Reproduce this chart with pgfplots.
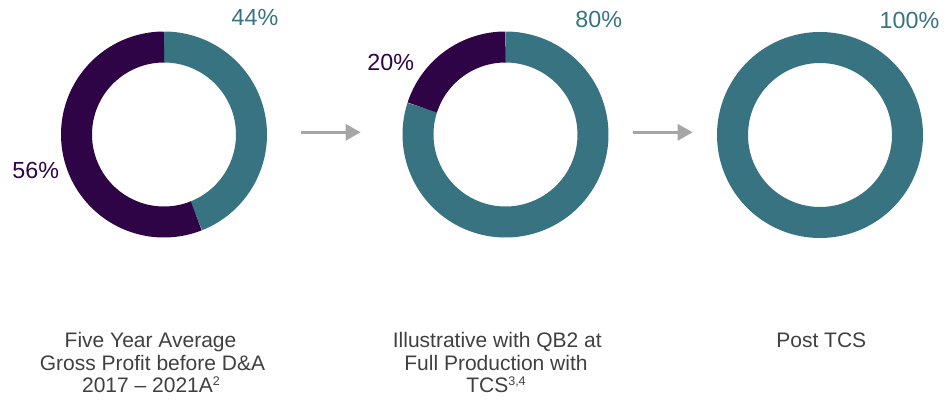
\documentclass[border=0pt]{standalone}
\usepackage{fontspec}
\setmainfont{Liberation Sans}
\usepackage{pgfplots}
\pgfplotsset{compat=1.18}
\usetikzlibrary{arrows.meta}
\definecolor{cteal}{RGB}{55,115,128}
\definecolor{cpurple}{RGB}{46,4,70}
\definecolor{cgray}{RGB}{166,166,166}
\definecolor{ctext}{RGB}{64,64,64}
\newcommand{\supnote}[1]{\raisebox{0.62ex}{\fontsize{12.5}{12.5}\selectfont #1}}
\begin{document}
\begin{tikzpicture}
\begin{axis}[name=ax, width=947pt, height=401pt, scale only axis,
  xmin=0, xmax=947, ymin=0, ymax=401, y dir=reverse,
  hide axis, clip=false]
% ring geometry: mid radius 87.5, width 31
% Donut 1: 44% teal, 56% purple
\addplot[cteal, line width=31pt, domain=0:44, samples=90, variable=\t] ({164+87.5*sin(3.6*\t)},{134.5-87.5*cos(3.6*\t)});
\addplot[cpurple, line width=31pt, domain=44:100, samples=110, variable=\t] ({164+87.5*sin(3.6*\t)},{134.5-87.5*cos(3.6*\t)});
% Donut 2: 80% teal, 20% purple
\addplot[cteal, line width=31pt, domain=0:80, samples=150, variable=\t] ({505.5+87.5*sin(3.6*\t)},{134.5-87.5*cos(3.6*\t)});
\addplot[cpurple, line width=31pt, domain=80:100, samples=45, variable=\t] ({505.5+87.5*sin(3.6*\t)},{134.5-87.5*cos(3.6*\t)});
% Donut 3: 100% teal
\addplot[cteal, line width=31pt, line cap=round, domain=0:100, samples=180, variable=\t] ({820+87.5*sin(3.6*\t)},{135-87.5*cos(3.6*\t)});
% arrows
\addplot[cgray, line width=3pt, -{Triangle[length=15pt,width=16pt]}] coordinates {(300.7,132.3) (360.7,132.3)};
\addplot[cgray, line width=3pt, -{Triangle[length=15pt,width=16pt]}] coordinates {(632.7,132.3) (692.7,132.3)};
% percentage labels
\node[anchor=base, inner sep=0, text=cteal, font=\fontsize{23.3}{28}\selectfont] at (axis cs:255,25.7) {44\%};
\node[anchor=base, inner sep=0, text=cpurple, font=\fontsize{23.3}{28}\selectfont] at (axis cs:35.7,178.3) {56\%};
\node[anchor=base, inner sep=0, text=cpurple, font=\fontsize{23.3}{28}\selectfont] at (axis cs:390.7,70.7) {20\%};
\node[anchor=base, inner sep=0, text=cteal, font=\fontsize{23.3}{28}\selectfont] at (axis cs:598.7,27.3) {80\%};
\node[anchor=base, inner sep=0, text=cteal, font=\fontsize{23.3}{28}\selectfont] at (axis cs:909.5,28.3) {100\%};
% bottom labels
\node[anchor=base, inner sep=0, text=ctext, font=\fontsize{21}{24}\selectfont] at (axis cs:150.5,347.5) {Five Year Average};
\node[anchor=base, inner sep=0, text=ctext, font=\fontsize{21}{24}\selectfont] at (axis cs:152.5,370) {Gross Profit before D\&A};
\node[anchor=base, inner sep=0, text=ctext, font=\fontsize{21}{24}\selectfont] at (axis cs:151,392.5) {2017 -- 2021A\supnote{2}};
\node[anchor=base, inner sep=0, text=ctext, font=\fontsize{21}{24}\selectfont] at (axis cs:497.3,347.5) {Illustrative with QB2 at};
\node[anchor=base, inner sep=0, text=ctext, font=\fontsize{21}{24}\selectfont] at (axis cs:496,370) {Full Production with};
\node[anchor=base, inner sep=0, text=ctext, font=\fontsize{21}{24}\selectfont] at (axis cs:496,392.5) {TCS\supnote{3,4}};
\node[anchor=base, inner sep=0, text=ctext, font=\fontsize{21}{24}\selectfont] at (axis cs:821.3,347.5) {Post TCS};
\end{axis}
\pgfresetboundingbox
\path (ax.south west) rectangle (ax.north east);
\end{tikzpicture}
\end{document}
